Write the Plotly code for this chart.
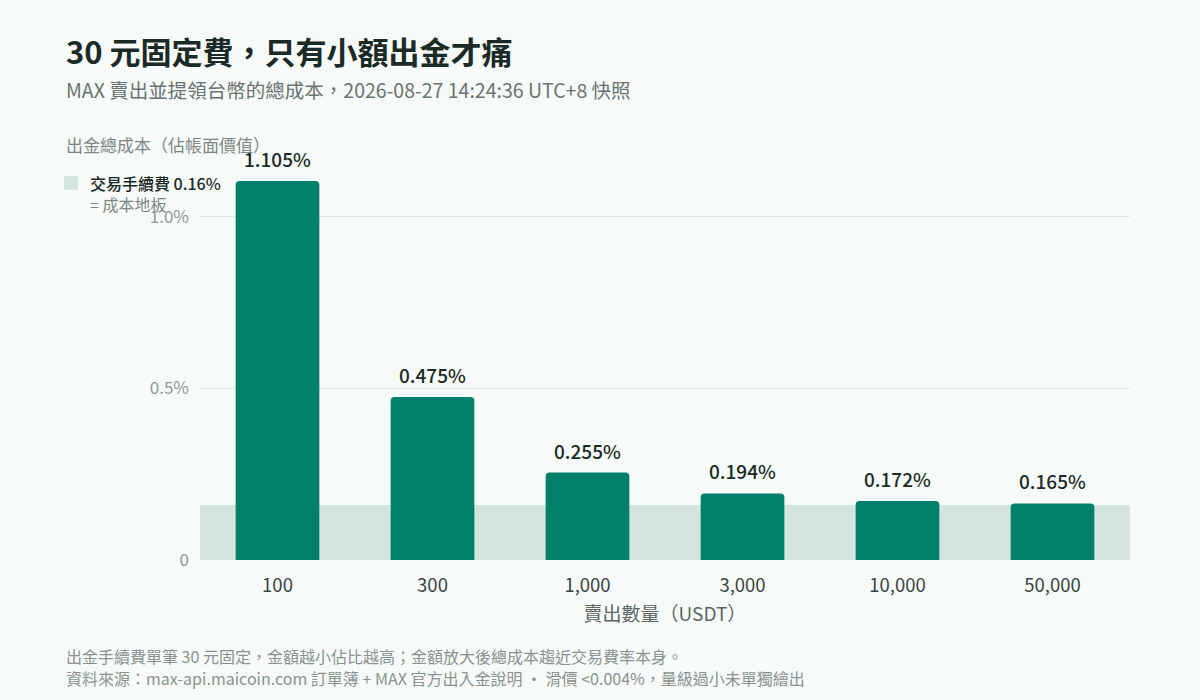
import plotly.graph_objects as go

# data
sizes = ["100", "300", "1,000", "3,000", "10,000", "50,000"]
total_cost = [1.105, 0.475, 0.255, 0.194, 0.172, 0.165]
trade_fee = 0.16
y_ticks = [0, 0.5, 1.0]
y_tick_labels = ["0", "0.5%", "1.0%"]

FONT = "Noto Sans CJK TC, Noto Sans, sans-serif"
BG = "#f6faf9"
BAR = "#00806a"
FLOOR = "#d4e5de"
DARK = "#1b2a26"
GREY = "#7d8783"

# plot area in pixels: left 200, right 1130, top 160, bottom 560
L, R, T, B = 200, 1130, 160, 560


def px(x):
    return (x - L) / (R - L)


def py(y):
    return (B - y) / (B - T)


fig = go.Figure()
fig.add_trace(go.Bar(
    x=sizes, y=total_cost,
    marker=dict(color=BAR, cornerradius=4, line=dict(width=0)),
    hoverinfo="x+y", showlegend=False,
))

# fee floor band
fig.add_hrect(y0=0, y1=trade_fee, fillcolor=FLOOR, line_width=0, layer="below")

# value labels above bars (category axis -> use the index, "100" would be read as a position)
for i, v in enumerate(total_cost):
    fig.add_annotation(x=i, y=v, text=f"{v:.3f}%", showarrow=False,
                       yanchor="bottom", yshift=7,
                       font=dict(size=19, color=DARK, weight=500))

texts = [
    (64, 50, "30 元固定費，只有小額出金才痛", 31, DARK, 700),
    (64, 90, "MAX 賣出並提領台幣的總成本，2026-08-27 14:24:36 UTC+8 快照", 19.5, "#6b7370", 400),
    (64, 144, "出金總成本（佔帳面價值）", 17, GREY, 400),
    (88, 183, "交易手續費 0.16%", 16, DARK, 500),
    (88, 204, "= 成本地板", 16, GREY, 400),
    (64, 656, "出金手續費單筆 30 元固定，金額越小佔比越高；金額放大後總成本趨近交易費率本身。", 16, "#8a9390", 400),
    (64, 678, "資料來源：max-api.maicoin.com 訂單簿 + MAX 官方出入金說明 · 滑價 <0.004%，量級過小未單獨繪出", 16, "#8a9390", 400),
]
for x, y, t, size, color, weight in texts:
    fig.add_annotation(xref="paper", yref="paper", x=px(x), y=py(y), text=t,
                       showarrow=False, xanchor="left", yanchor="middle",
                       font=dict(size=size, color=color, weight=weight))

# legend swatch
fig.add_shape(type="rect", xref="paper", yref="paper",
              x0=px(64), x1=px(78), y0=py(190), y1=py(176),
              fillcolor=FLOOR, line_width=0)

fig.update_layout(
    width=1200, height=700,
    margin=dict(l=L, r=1200 - R, t=T, b=700 - B),
    paper_bgcolor=BG, plot_bgcolor=BG,
    font=dict(family=FONT, color=DARK),
    bargap=0.46,
    showlegend=False,
)
fig.update_yaxes(range=[0, 1.166], tickvals=y_ticks, ticktext=y_tick_labels,
                 showgrid=True, gridcolor="#e1e8e5", gridwidth=1,
                 zeroline=False, showline=False, ticks="",
                 tickfont=dict(size=17, color="#8f9894"), ticklabelstandoff=10)
fig.update_xaxes(type="category", range=[-0.5, len(sizes) - 0.5],
                 showgrid=False, showline=False, ticks="",
                 tickfont=dict(size=18.5, color="#3a4441"), ticklabelstandoff=12,
                 title=dict(text="賣出數量（USDT）", font=dict(size=19, color="#5d6663"), standoff=12))

fig.write_html("out.html", config={"displayModeBar": False},
               post_script="document.body.style.margin='0';document.body.style.background='#f6faf9';")
